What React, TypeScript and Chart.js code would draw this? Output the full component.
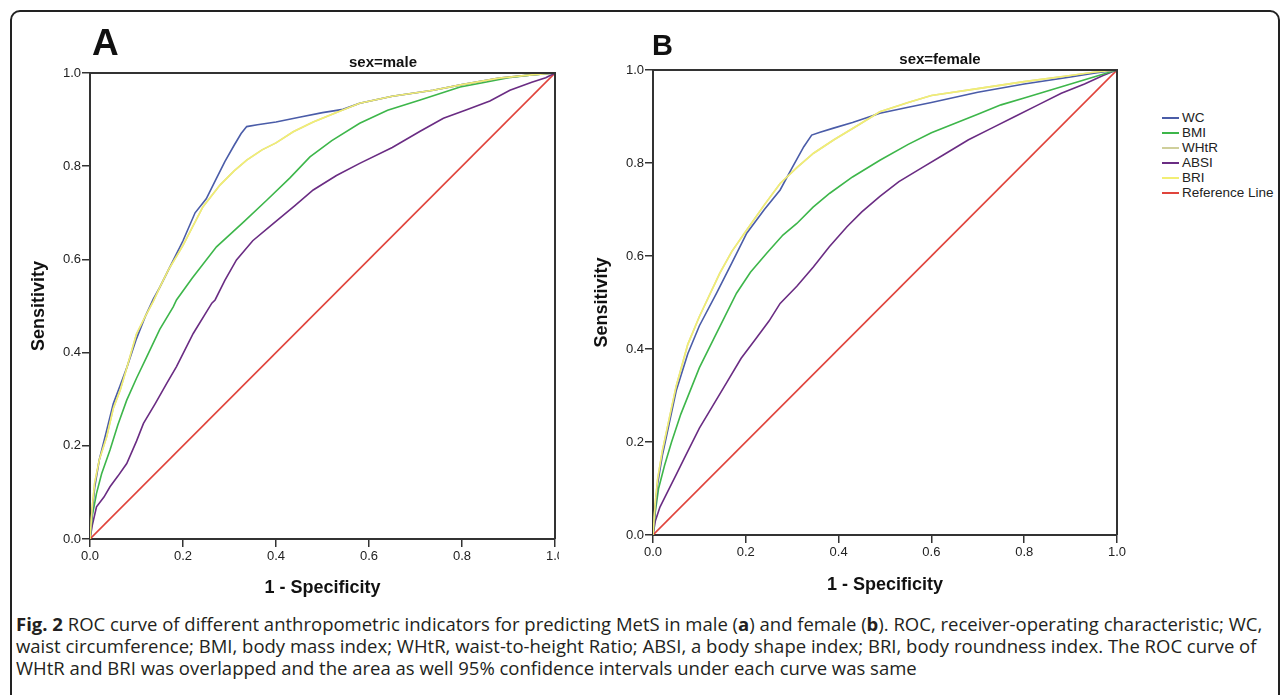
import React, { useEffect, useRef } from "react";
import { Chart, registerables } from "chart.js";

Chart.register(...registerables);

const FONT = "'Liberation Sans', Arial, Helvetica, sans-serif";

const X_TICKS = [0, 0.2, 0.4, 0.6, 0.8, 1.0];
const Y_TICKS = [0, 0.2, 0.4, 0.6, 0.8, 1.0];

const SERIES_NAMES = ["WC", "BMI", "WHtR", "ABSI", "BRI", "Reference Line"];
const SERIES_COLORS = ["#4a5ca8", "#3db64a", "#cfcf9b", "#6a2c83", "#f2ee74", "#e0443c"];

// ---- Panel A: sex=male ----
const A_WC_X = [0, 0.005, 0.01, 0.02, 0.035, 0.05, 0.065, 0.08, 0.1, 0.12, 0.136, 0.15, 0.165, 0.18, 0.2, 0.226, 0.25, 0.27, 0.29, 0.31, 0.325, 0.337, 0.36, 0.4, 0.45, 0.5, 0.544, 0.58, 0.65, 0.738, 0.8, 0.88, 0.95, 1.0];
const A_WC_Y = [0, 0.06, 0.11, 0.17, 0.23, 0.29, 0.33, 0.37, 0.43, 0.48, 0.515, 0.54, 0.57, 0.6, 0.64, 0.7, 0.73, 0.77, 0.81, 0.845, 0.87, 0.885, 0.889, 0.895, 0.905, 0.915, 0.922, 0.935, 0.95, 0.963, 0.975, 0.989, 0.996, 1.0];

const A_BMI_X = [0, 0.005, 0.014, 0.025, 0.043, 0.06, 0.079, 0.1, 0.122, 0.15, 0.179, 0.186, 0.22, 0.272, 0.33, 0.38, 0.43, 0.473, 0.52, 0.58, 0.64, 0.71, 0.796, 0.85, 0.9, 0.95, 1.0];
const A_BMI_Y = [0, 0.05, 0.098, 0.14, 0.191, 0.245, 0.298, 0.345, 0.391, 0.45, 0.498, 0.513, 0.56, 0.627, 0.68, 0.727, 0.775, 0.82, 0.855, 0.892, 0.92, 0.942, 0.97, 0.98, 0.99, 0.996, 1.0];

const A_WHTR_X = [0, 0.005, 0.01, 0.02, 0.036, 0.05, 0.065, 0.08, 0.1, 0.12, 0.136, 0.15, 0.17, 0.2, 0.243, 0.28, 0.31, 0.337, 0.37, 0.4, 0.437, 0.48, 0.53, 0.58, 0.65, 0.738, 0.8, 0.88, 0.95, 1.0];
const A_WHTR_Y = [0, 0.07, 0.12, 0.17, 0.22, 0.28, 0.32, 0.37, 0.44, 0.48, 0.51, 0.54, 0.58, 0.63, 0.713, 0.76, 0.79, 0.813, 0.835, 0.85, 0.874, 0.895, 0.915, 0.935, 0.95, 0.963, 0.975, 0.989, 0.996, 1.0];

const A_ABSI_X = [0, 0.005, 0.014, 0.03, 0.043, 0.06, 0.079, 0.1, 0.115, 0.14, 0.165, 0.186, 0.222, 0.262, 0.269, 0.29, 0.315, 0.35, 0.394, 0.44, 0.48, 0.53, 0.58, 0.65, 0.71, 0.76, 0.81, 0.86, 0.903, 0.95, 0.98, 1.0];
const A_ABSI_Y = [0, 0.03, 0.069, 0.09, 0.112, 0.135, 0.162, 0.21, 0.248, 0.29, 0.334, 0.37, 0.441, 0.506, 0.513, 0.555, 0.599, 0.64, 0.677, 0.715, 0.749, 0.78, 0.806, 0.84, 0.875, 0.903, 0.921, 0.94, 0.963, 0.98, 0.99, 1.0];

const A_BRI_X = [0, 0.005, 0.01, 0.02, 0.036, 0.05, 0.065, 0.08, 0.1, 0.12, 0.136, 0.15, 0.17, 0.2, 0.243, 0.28, 0.31, 0.337, 0.37, 0.4, 0.437, 0.48, 0.53, 0.58, 0.65, 0.738, 0.8, 0.88, 0.95, 1.0];
const A_BRI_Y = [0, 0.07, 0.12, 0.17, 0.22, 0.28, 0.32, 0.37, 0.44, 0.48, 0.51, 0.54, 0.58, 0.63, 0.713, 0.76, 0.79, 0.813, 0.835, 0.85, 0.874, 0.895, 0.915, 0.935, 0.95, 0.963, 0.975, 0.989, 0.996, 1.0];

// ---- Panel B: sex=female ----
const B_WC_X = [0, 0.005, 0.01, 0.02, 0.035, 0.05, 0.075, 0.1, 0.137, 0.17, 0.202, 0.24, 0.274, 0.3, 0.325, 0.342, 0.36, 0.389, 0.43, 0.489, 0.55, 0.6, 0.7, 0.8, 0.9, 0.95, 1.0];
const B_WC_Y = [0, 0.06, 0.11, 0.17, 0.24, 0.31, 0.39, 0.45, 0.52, 0.585, 0.649, 0.7, 0.742, 0.79, 0.835, 0.86, 0.866, 0.875, 0.887, 0.907, 0.92, 0.93, 0.952, 0.97, 0.985, 0.993, 1.0];

const B_BMI_X = [0, 0.005, 0.012, 0.025, 0.04, 0.06, 0.08, 0.1, 0.13, 0.155, 0.18, 0.21, 0.245, 0.28, 0.31, 0.345, 0.381, 0.43, 0.489, 0.55, 0.6, 0.65, 0.7, 0.75, 0.8, 0.85, 0.9, 0.95, 1.0];
const B_BMI_Y = [0, 0.05, 0.1, 0.15, 0.2, 0.26, 0.31, 0.36, 0.42, 0.47, 0.52, 0.565, 0.606, 0.645, 0.67, 0.705, 0.735, 0.77, 0.806, 0.84, 0.865, 0.885, 0.905, 0.925, 0.94, 0.955, 0.97, 0.985, 1.0];

const B_WHTR_X = [0, 0.005, 0.01, 0.02, 0.035, 0.05, 0.075, 0.1, 0.144, 0.17, 0.202, 0.24, 0.274, 0.31, 0.346, 0.39, 0.44, 0.489, 0.55, 0.6, 0.7, 0.8, 0.9, 0.95, 1.0];
const B_WHTR_Y = [0, 0.07, 0.12, 0.18, 0.25, 0.32, 0.41, 0.47, 0.563, 0.61, 0.656, 0.71, 0.756, 0.79, 0.821, 0.85, 0.88, 0.91, 0.93, 0.945, 0.96, 0.975, 0.988, 0.995, 1.0];

const B_ABSI_X = [0, 0.005, 0.015, 0.03, 0.05, 0.07, 0.1, 0.13, 0.16, 0.19, 0.22, 0.25, 0.274, 0.31, 0.346, 0.38, 0.418, 0.45, 0.489, 0.53, 0.58, 0.63, 0.68, 0.73, 0.78, 0.83, 0.88, 0.93, 0.97, 1.0];
const B_ABSI_Y = [0, 0.03, 0.06, 0.09, 0.13, 0.17, 0.23, 0.28, 0.33, 0.38, 0.42, 0.46, 0.498, 0.535, 0.577, 0.62, 0.663, 0.695, 0.728, 0.76, 0.79, 0.82, 0.85, 0.875, 0.9, 0.925, 0.95, 0.97, 0.988, 1.0];

const B_BRI_X = [0, 0.005, 0.01, 0.02, 0.035, 0.05, 0.075, 0.1, 0.144, 0.17, 0.202, 0.24, 0.274, 0.31, 0.346, 0.39, 0.44, 0.489, 0.55, 0.6, 0.7, 0.8, 0.9, 0.95, 1.0];
const B_BRI_Y = [0, 0.07, 0.12, 0.18, 0.25, 0.32, 0.41, 0.47, 0.563, 0.61, 0.656, 0.71, 0.756, 0.79, 0.821, 0.85, 0.88, 0.91, 0.93, 0.945, 0.96, 0.975, 0.988, 0.995, 1.0];

const REF_X = [0, 1];
const REF_Y = [0, 1];

const A_SERIES: [number[], number[]][] = [
  [A_WC_X, A_WC_Y], [A_BMI_X, A_BMI_Y], [A_WHTR_X, A_WHTR_Y], [A_ABSI_X, A_ABSI_Y], [A_BRI_X, A_BRI_Y], [REF_X, REF_Y],
];
const B_SERIES: [number[], number[]][] = [
  [B_WC_X, B_WC_Y], [B_BMI_X, B_BMI_Y], [B_WHTR_X, B_WHTR_Y], [B_ABSI_X, B_ABSI_Y], [B_BRI_X, B_BRI_Y], [REF_X, REF_Y],
];
// drawing order: lower = on top
const DRAW_ORDER = [1, 2, 4, 3, 0, 5];

const framePlugin = {
  id: "plotFrame",
  afterDraw(chart: any) {
    const { ctx, chartArea } = chart;
    ctx.save();
    ctx.strokeStyle = "#333";
    ctx.lineWidth = 2;
    ctx.beginPath();
    ctx.moveTo(chartArea.left, chartArea.top);
    ctx.lineTo(chartArea.right, chartArea.top);
    ctx.lineTo(chartArea.right, chartArea.bottom);
    ctx.stroke();
    ctx.restore();
  },
};

type PanelCfg = {
  series: [number[], number[]][];
  width: number;
  height: number;
  pad: { left: number; top: number; right: number; bottom: number };
  yWidth: number;
  xHeight: number;
  xTitlePadBottom: number;
  yTitlePadTop: number;
};

function RocPanel({ cfg }: { cfg: PanelCfg }) {
  const ref = useRef<HTMLCanvasElement | null>(null);
  useEffect(() => {
    if (!ref.current) return;
    const datasets = cfg.series.map(([xs, ys], i) => ({
      label: SERIES_NAMES[i],
      data: xs.map((x, j) => ({ x, y: ys[j] })),
      showLine: true,
      borderColor: SERIES_COLORS[i],
      backgroundColor: SERIES_COLORS[i],
      borderWidth: 1.6,
      pointRadius: 0,
      pointHoverRadius: 0,
      fill: false,
      tension: 0,
      order: DRAW_ORDER[i],
    }));
    const tickFont = { family: FONT, size: 13 };
    const titleFont = { family: FONT, size: 18, weight: "bold" as const };
    const chart = new Chart(ref.current, {
      type: "scatter",
      data: { datasets },
      options: {
        animation: false,
        responsive: false,
        maintainAspectRatio: false,
        events: [],
        layout: { padding: cfg.pad },
        plugins: {
          legend: { display: false },
          tooltip: { enabled: false },
          title: { display: false },
        },
        scales: {
          x: {
            type: "linear",
            min: 0,
            max: 1,
            afterBuildTicks: (s: any) => {
              s.ticks = X_TICKS.map((v) => ({ value: v }));
            },
            afterFit: (s: any) => {
              s.height = cfg.xHeight;
            },
            ticks: {
              callback: (v: any) => Number(v).toFixed(1),
              font: tickFont,
              color: "#222",
              padding: 2,
              maxRotation: 0,
              autoSkip: false,
            },
            grid: { drawOnChartArea: false, drawTicks: true, tickLength: 8, color: "#333", lineWidth: 1.5 },
            border: { display: true, color: "#333", width: 2 },
            title: {
              display: true,
              text: "1 - Specificity",
              font: titleFont,
              color: "#111",
              padding: { top: 0, bottom: cfg.xTitlePadBottom },
            },
          },
          y: {
            type: "linear",
            min: 0,
            max: 1,
            afterBuildTicks: (s: any) => {
              s.ticks = Y_TICKS.map((v) => ({ value: v }));
            },
            afterFit: (s: any) => {
              s.width = cfg.yWidth;
            },
            ticks: {
              callback: (v: any) => Number(v).toFixed(1),
              font: tickFont,
              color: "#222",
              padding: 1,
              autoSkip: false,
            },
            grid: { drawOnChartArea: false, drawTicks: true, tickLength: 8, color: "#333", lineWidth: 1.5 },
            border: { display: true, color: "#333", width: 2 },
            title: {
              display: true,
              text: "Sensitivity",
              font: titleFont,
              color: "#111",
              padding: { top: cfg.yTitlePadTop, bottom: 0 },
            },
          },
        },
      },
      plugins: [framePlugin],
    } as any);
    return () => chart.destroy();
  }, [cfg]);
  return (
    <canvas
      ref={ref}
      width={cfg.width}
      height={cfg.height}
      style={{ width: cfg.width, height: cfg.height, display: "block" }}
    />
  );
}

const PANEL_A: PanelCfg = {
  series: A_SERIES,
  width: 590,
  height: 600,
  pad: { left: 26, top: 73, right: 35, bottom: 0 },
  yWidth: 64,
  xHeight: 61,
  xTitlePadBottom: 1,
  yTitlePadTop: 2,
};

const PANEL_B: PanelCfg = {
  series: B_SERIES,
  width: 600,
  height: 600,
  pad: { left: 29, top: 70, right: 43, bottom: 0 },
  yWidth: 64,
  xHeight: 65,
  xTitlePadBottom: 4,
  yTitlePadTop: 2,
};

const abs = (o: React.CSSProperties): React.CSSProperties => ({ position: "absolute", ...o });

export default function App() {
  const legendTop = 118;
  const legendStep = 15;
  return (
    <div style={abs({ left: 0, top: 0, width: 1282, height: 695, overflow: "hidden", background: "#fff" })}>
      <div
        style={abs({
          left: 10,
          top: 10,
          width: 1270,
          height: 740,
          boxSizing: "border-box",
          border: "2px solid #222",
          borderRadius: 10,
        })}
      />
      <div style={abs({ left: 0, top: 0, width: 559, height: 600, overflow: "hidden" })}>
        <RocPanel cfg={PANEL_A} />
      </div>
      <div style={abs({ left: 560, top: 0, width: 600, height: 600 })}>
        <RocPanel cfg={PANEL_B} />
      </div>

      <div style={abs({ left: 92, top: 23.7, fontFamily: FONT, fontWeight: "bold", fontSize: 37, lineHeight: "37px", color: "#111" })}>A</div>
      <div style={abs({ left: 652, top: 30.5, fontFamily: FONT, fontWeight: "bold", fontSize: 29, lineHeight: "29px", color: "#111" })}>B</div>

      <div style={abs({ left: 283, width: 200, textAlign: "center", top: 53.8, fontFamily: FONT, fontWeight: "bold", fontSize: 15, lineHeight: "15px", color: "#111" })}>sex=male</div>
      <div style={abs({ left: 840, width: 200, textAlign: "center", top: 51.3, fontFamily: FONT, fontWeight: "bold", fontSize: 15, lineHeight: "15px", color: "#111" })}>sex=female</div>

      {SERIES_NAMES.map((name, i) => (
        <React.Fragment key={name}>
          <div style={abs({ left: 1162, top: legendTop + i * legendStep - 0.75, width: 17, height: 1.5, background: SERIES_COLORS[i] })} />
          <div style={abs({ left: 1182, top: legendTop + i * legendStep - 7, fontFamily: FONT, fontSize: 13.5, lineHeight: "14px", color: "#222", whiteSpace: "nowrap" })}>{name}</div>
        </React.Fragment>
      ))}

      <div style={abs({ left: 16, top: 613, fontFamily: "'Open Sans', sans-serif", fontSize: 18.5, lineHeight: "22px", color: "#231f20", whiteSpace: "nowrap" })}>
        <div>
          <b>Fig. 2</b> ROC curve of different anthropometric indicators for predicting MetS in male (<b>a</b>) and female (<b>b</b>). ROC, receiver-operating characteristic; WC,
        </div>
        <div>
          waist circumference; BMI, body mass index; WHtR, waist-to-height Ratio; ABSI, a body shape index; BRI, body roundness index. The ROC curve of
        </div>
        <div>WHtR and BRI was overlapped and the area as well 95% confidence intervals under each curve was same</div>
      </div>
    </div>
  );
}
